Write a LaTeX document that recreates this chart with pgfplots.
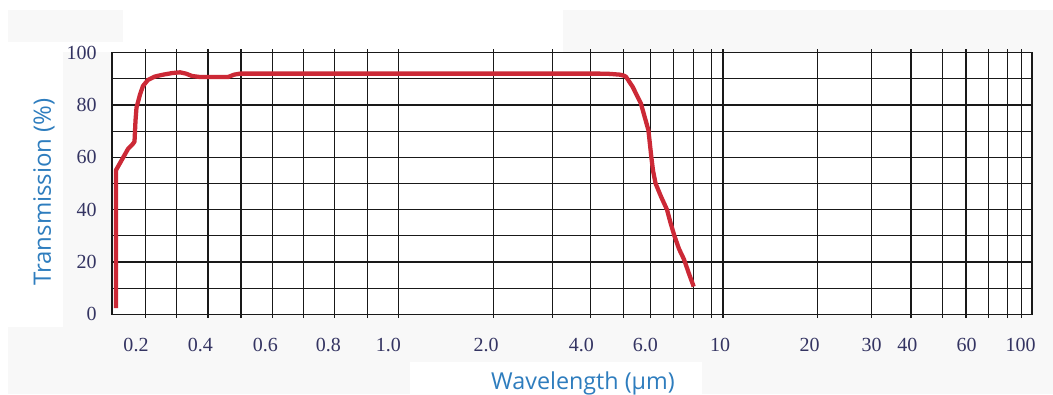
\documentclass[border=0pt]{standalone}
\usepackage{pgfplots}
\pgfplotsset{compat=1.18}
\usepackage{fontspec}
\setmainfont{Liberation Serif}
\newfontfamily\labfont{Open Sans}
\definecolor{bgg}{RGB}{248,248,248}
\definecolor{curve}{RGB}{204,41,54}
\definecolor{labblue}{RGB}{46,125,190}
\definecolor{tickc}{RGB}{52,52,98}
\definecolor{gridc}{RGB}{25,25,25}
\begin{document}
\begin{tikzpicture}
\useasboundingbox (0,0) rectangle (789.75pt,295.5pt);
\begin{scope}[x=0.75pt,y=0.75pt]
 \fill[bgg] (8,384) rectangle (123,352);
 \fill[bgg] (563,384) rectangle (1053,342);
 \fill[bgg] (63,342) rectangle (1053,67);
 \fill[bgg] (8,67) rectangle (1053,0);
 \fill[white] (410,32) rectangle (702,0);
\end{scope}
\begin{axis}[
  at={(84pt,59.775pt)}, anchor=south west,
  scale only axis, width=690pt, height=196.2pt,
  xmin=112, xmax=1032, ymin=0, ymax=100,
  axis background/.style={fill=white},
  axis line style={gridc, line width=1pt},
  xtick={145.3,176.7,208,241,272.3,303.3,334.7,367.7,398.7,493.7,552.7,590.7,623.3,650.7,673.7,693.7,711.7,723,817.7,871.3,911,942.3,966,988.3,1007.7,1021.7},
  xticklabels={},
  ytick={0,10,...,100},
  yticklabels={0,,20,,40,,60,,80,,100},
  grid=major,
  major grid style={gridc, line width=0.9pt},
  tick align=outside,
  major tick length=2.5pt,
  xtick style={gridc, line width=0.9pt},
  ytick style={draw=none},
  ticklabel style={font=\fontsize{15}{18}\selectfont, text=tickc},
  yticklabel style={anchor=east, xshift=-5.5pt},
  extra x ticks={136,200.3,265.3,328.3,388.3,486,581.3,645.3,720,809.7,871.7,907.3,966.7,1020.7},
  extra x tick labels={0.2,0.4,0.6,0.8,1.0,2.0,4.0,6.0,10,20,30,40,60,100},
  extra x tick style={grid=none, major tick length=0pt, tick style={draw=none},
     xticklabel style={anchor=center, yshift=-23pt}},
  clip=false,
]
\addplot[curve, line width=3.2pt, line join=round] coordinates {
(116,2.4) (116,55.1) (120,57.8) (124,60.5) (128,63.2) (133,65.2) (134.5,66)
(135.5,74) (136.5,79) (140,84) (143,87.3) (148,89.6) (155,90.9) (163,91.6)
(172,92.2) (180,92.5) (186,92) (192,91.1) (200,90.7) (228,90.7) (234,91.6)
(240,92) (600,92) (610,91.9) (620,91.6) (624,91.2) (626,90.8) (632.6,87)
(640.8,80.7) (648.4,70.4) (651.3,60.2) (653,55) (655.6,50) (661,45) (667,40)
(670.5,35) (674.4,30) (679,25) (684,21) (689,15.5) (693.7,10.6)
};
\end{axis}
\node[rotate=90, font=\labfont\fontsize{18}{20}\selectfont, text=labblue] at (33pt,151.5pt) {Transmission (\%)};
\node[font=\labfont\fontsize{17.5}{20}\selectfont, text=labblue] at (437.25pt,8.25pt) {Wavelength (µm)};
\end{tikzpicture}
\end{document}
